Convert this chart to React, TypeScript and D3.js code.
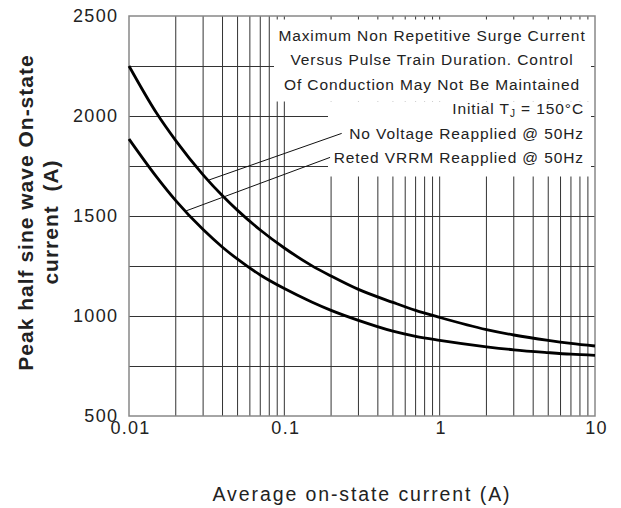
import React, { useEffect, useRef } from 'react';
import * as d3 from 'd3';

// pulse train duration (x) and peak surge current (y)
const pulseDuration = [0.01, 0.015, 0.02, 0.03, 0.04, 0.05, 0.07, 0.1, 0.15, 0.2, 0.3, 0.5, 0.7, 1, 2, 3, 5, 7, 10];
const noVoltageCurrent = [2250, 2016, 1877, 1706, 1601, 1528, 1430, 1340, 1252, 1200, 1133, 1068, 1028, 993, 932, 905, 878, 863, 850];
const ratedVrrmCurrent = [1885, 1697, 1577, 1432, 1344, 1284, 1205, 1137, 1070, 1028, 978, 924, 898, 878, 846, 831, 817, 809, 803];

const xTickValues = [0.01, 0.1, 1, 10];
const xTickLabels = ['0.01', '0.1', '1', '10'];
const yTickValues = [500, 1000, 1500, 2000, 2500];
const yGridValues = [750, 1000, 1250, 1500, 1750, 2000, 2250];

const noteLines = [
  'Maximum Non Repetitive Surge Current',
  'Versus Pulse Train Duration. Control',
  'Of Conduction May Not Be Maintained',
];
const seriesLabels = ['No Voltage Reapplied @ 50Hz', 'Reted VRRM Reapplied @ 50Hz'];
// leader lines: [label side, curve side] in data units
const leaderFrom = [[0.234, 1913], [0.197, 1793]];
const leaderTo = [[0.0327, 1680], [0.0232, 1525]];

const W = 621;
const H = 508;
const margin = { top: 16, right: 26, bottom: 92, left: 129 };
const FONT = "'Liberation Sans', Arial, Helvetica, sans-serif";

const SurgeChart = () => {
  const ref = useRef<SVGSVGElement>(null);

  useEffect(() => {
    if (!ref.current) return;
    const svg = d3.select(ref.current);
    svg.selectAll('*').remove();

    const x = d3.scaleLog().domain([0.01, 10]).range([margin.left, W - margin.right]);
    const y = d3.scaleLinear().domain([500, 2500]).range([H - margin.bottom, margin.top]);
    const crisp = (v: number) => Math.round(v) + 0.5;

    // grid
    const minor = d3.range(-2, 1)
      .flatMap(e => d3.range(1, 10).map(k => +(k * Math.pow(10, e)).toPrecision(3)))
      .filter(v => v > 0.01);
    const grid = svg.append('g').attr('stroke', '#333').attr('stroke-width', 1);
    grid.selectAll('.vg')
      .data(minor)
      .enter()
      .append('line')
      .attr('x1', d => x(d))
      .attr('x2', d => x(d))
      .attr('y1', y(2500))
      .attr('y2', y(500));
    grid.selectAll('.hg')
      .data(yGridValues)
      .enter()
      .append('line')
      .attr('x1', x(0.01))
      .attr('x2', x(10))
      .attr('y1', d => crisp(y(d)))
      .attr('y2', d => crisp(y(d)));

    // white boxes behind the notes (grid is broken there)
    svg.append('rect').attr('x', 274).attr('y', 19.5).attr('width', 317).attr('height', 82).attr('fill', '#fff');
    svg.append('rect').attr('x', 328).attr('y', 101.5).attr('width', 263).attr('height', 75).attr('fill', '#fff');

    // frame
    svg.append('rect')
      .attr('x', x(0.01))
      .attr('y', y(2500))
      .attr('width', x(10) - x(0.01))
      .attr('height', y(500) - y(2500))
      .attr('fill', 'none')
      .attr('stroke', '#888')
      .attr('stroke-width', 1.5);

    // curves
    const line = d3.line<number>()
      .x((d, i) => x(pulseDuration[i]))
      .y(d => y(d))
      .curve(d3.curveMonotoneX);
    [noVoltageCurrent, ratedVrrmCurrent].forEach(series => {
      svg.append('path')
        .attr('d', line(series))
        .attr('fill', 'none')
        .attr('stroke', '#000')
        .attr('stroke-width', 2.8);
    });

    // leaders
    leaderFrom.forEach((p, i) => {
      svg.append('line')
        .attr('x1', x(p[0]))
        .attr('y1', y(p[1]))
        .attr('x2', x(leaderTo[i][0]))
        .attr('y2', y(leaderTo[i][1]))
        .attr('stroke', '#111')
        .attr('stroke-width', 1);
    });

    // notes
    const notes = svg.append('g')
      .attr('font-family', FONT)
      .attr('font-size', 15.5)
      .attr('letter-spacing', 0.9)
      .attr('fill', '#222');
    noteLines.forEach((t, i) => {
      notes.append('text')
        .attr('x', 432)
        .attr('y', 40.5 + i * 24.5)
        .attr('text-anchor', 'middle')
        .text(t);
    });
    const tj = notes.append('text')
      .attr('x', 584)
      .attr('y', 114)
      .attr('text-anchor', 'end');
    tj.append('tspan').text('Initial T');
    tj.append('tspan').attr('font-size', 10).attr('dy', 3).text('J');
    tj.append('tspan').attr('dy', -3).text(' = 150°C');
    seriesLabels.forEach((t, i) => {
      notes.append('text')
        .attr('x', 584)
        .attr('y', 138.5 + i * 24.5)
        .attr('text-anchor', 'end')
        .text(t);
    });

    // tick labels
    const ticks = svg.append('g')
      .attr('font-family', FONT)
      .attr('font-size', 18)
      .attr('letter-spacing', 1.3)
      .attr('fill', '#222');
    ticks.selectAll('.yt')
      .data(yTickValues)
      .enter()
      .append('text')
      .attr('x', x(0.01) - 10.7)
      .attr('y', d => y(d))
      .attr('dy', '0.36em')
      .attr('text-anchor', 'end')
      .text(d => String(d));
    ticks.selectAll('.xt')
      .data(xTickValues)
      .enter()
      .append('text')
      .attr('x', d => x(d) + 1.5)
      .attr('y', y(500) + 18)
      .attr('text-anchor', 'middle')
      .text((d, i) => xTickLabels[i]);

    // axis titles
    svg.append('text')
      .attr('x', (x(0.01) + x(10)) / 2)
      .attr('y', 501)
      .attr('text-anchor', 'middle')
      .attr('font-family', FONT)
      .attr('font-size', 19.5)
      .attr('letter-spacing', 1.9)
      .attr('fill', '#222')
      .text('Average on-state current (A)');

    const yTitle = svg.append('g')
      .attr('transform', 'rotate(-90)')
      .attr('font-family', FONT)
      .attr('font-size', 21)
      .attr('font-weight', 'bold')
      .attr('letter-spacing', 1)
      .attr('fill', '#222')
      .attr('text-anchor', 'middle');
    yTitle.append('text')
      .attr('x', -212.5)
      .attr('y', 33.3)
      .text('Peak half sine wave On-state');
    yTitle.append('text')
      .attr('x', -222)
      .attr('y', 57.5)
      .style('white-space', 'pre')
      .text('current  (A)');
  }, []);

  return (
    <svg
      ref={ref}
      width={W}
      height={H}
      style={{ position: 'absolute', left: 0, top: 0, background: '#fff' }}
    />
  );
};

export default function App() {
  return <SurgeChart />;
}
